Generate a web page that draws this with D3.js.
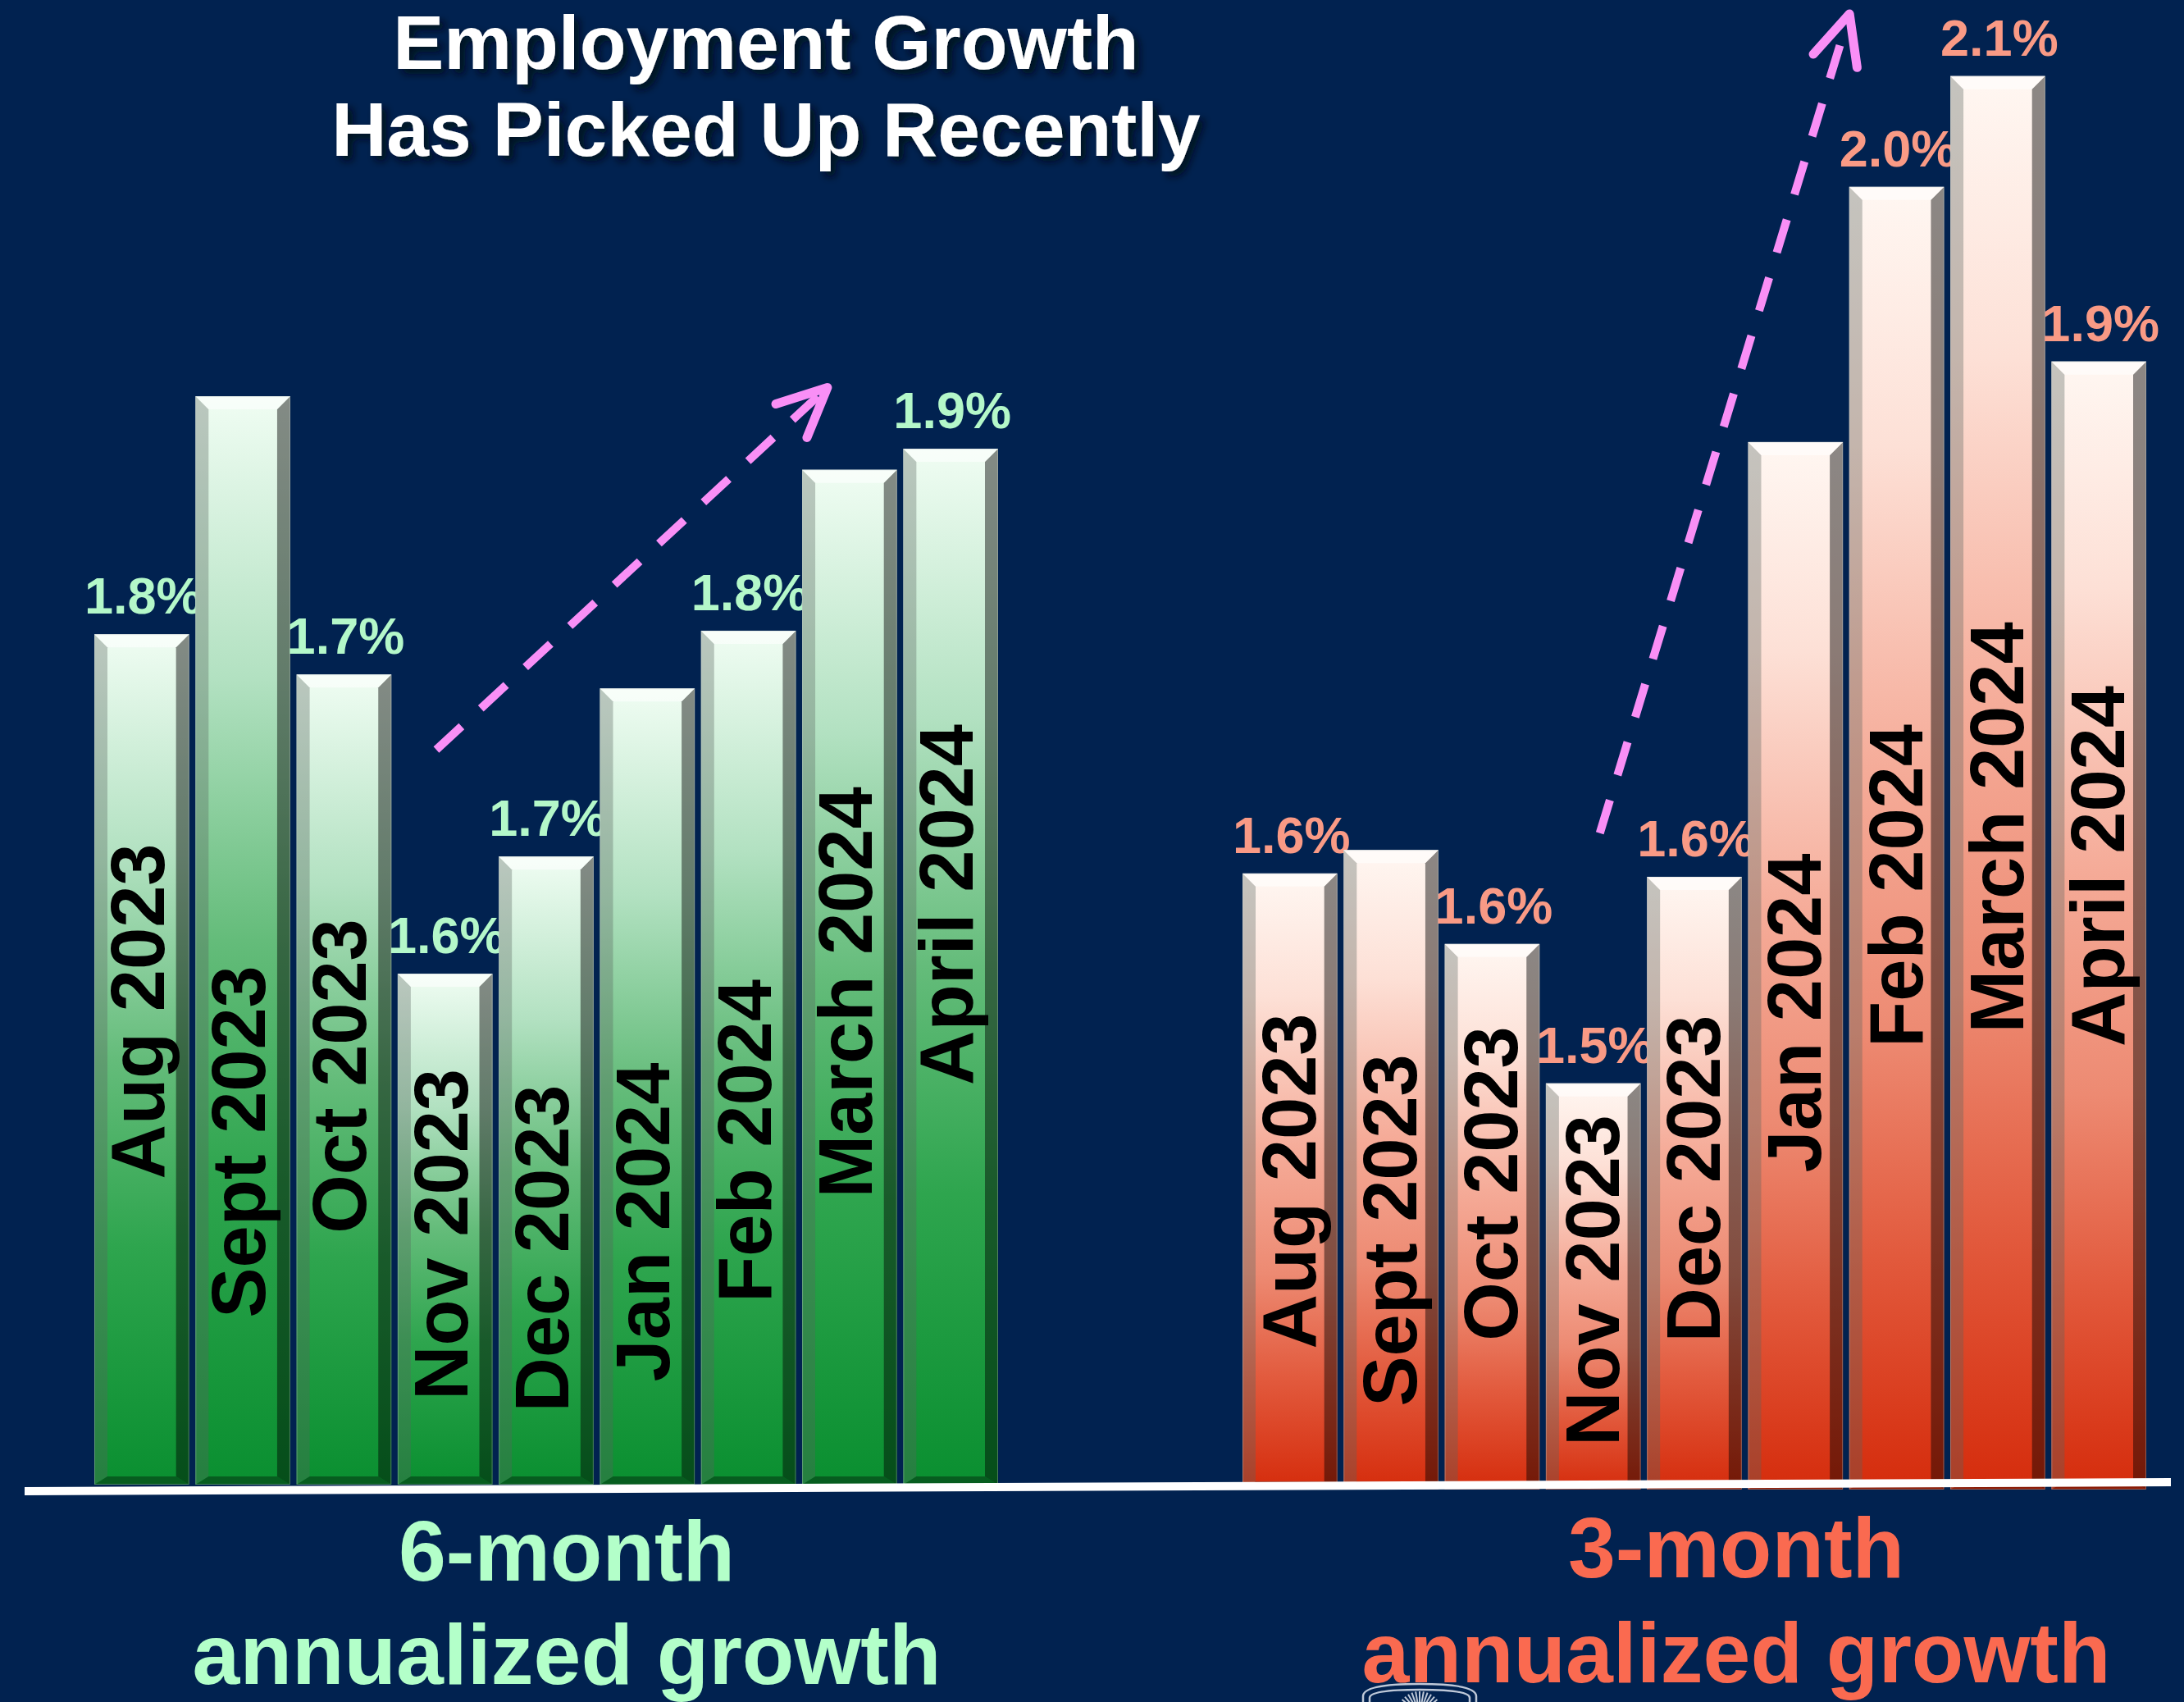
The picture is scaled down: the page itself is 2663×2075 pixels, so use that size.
<!DOCTYPE html>
<html><head><meta charset="utf-8">
<script src="https://cdn.jsdelivr.net/npm/d3@7"></script>
<style>html,body{margin:0;padding:0;background:#012250;overflow:hidden}svg{display:block}</style>
</head><body>
<svg id="chart" width="2663" height="2075"></svg>
<script>
// ---------- DATA ----------
const months = ["Aug 2023","Sept 2023","Oct 2023","Nov 2023","Dec 2023","Jan 2024","Feb 2024","March 2024","April 2024"];
const values6 = [1.794, 1.930, 1.771, 1.600, 1.667, 1.763, 1.796, 1.888, 1.900];
const labels6 = ["1.8%", null, "1.7%", "1.6%", "1.7%", null, "1.8%", null, "1.9%"];
const values3 = [1.625, 1.639, 1.583, 1.500, 1.623, 1.882, 2.034, 2.100, 1.930];
const labels3 = ["1.6%", null, "1.6%", "1.5%", "1.6%", null, "2.0%", "2.1%", "1.9%"];
const titleLines = ["Employment Growth", "Has Picked Up Recently"];
const caption6 = ["6-month", "annualized growth"];
const caption3 = ["3-month", "annualized growth"];
// trend arrows, anchored in data space: {i: band index, v: value}
const arrow6 = [{i: 3.382, v: 1.728}, {i: 7.25, v: 1.935}];
const arrow3 = [{i: 3.534, v: 1.649}, {i: 6.003, v: 2.137}];

// ---------- LAYOUT ----------
const FONT = "'Liberation Sans', Arial, Helvetica, sans-serif";
const panels = [
  {values: values6, labels: labels6, caption: caption6, arrow: arrow6,
   xr: [115, 1217], base: 1810, domain: [1.308, 2.10], top: 120.4,
   grad: "gGreen", valueColor: "#b4f8c9", captionColor: "#b3ffc9", capX: 691, capY: [1927, 2053],
   textOff: 27, labelMid: [1233, 1392, 1312, 1505, 1522, 1490, 1391, 1210, 1103]},
  {values: values3, labels: labels3, caption: caption3, arrow: arrow3,
   xr: [1515, 2617], base: 1816, domain: [1.258, 2.10], top: 92.7,
   grad: "gRed", valueColor: "#f99a85", captionColor: "#fa6a50", capX: 2117, capY: [1923, 2051],
   textOff: 31, labelMid: [1440, 1500, 1443, 1561, 1437, 1235, 1080, 1009, 1056]}
];

const svg = d3.select("#chart");
svg.append("rect").attr("width", 2663).attr("height", 2075).attr("fill", "#012250");

const defs = svg.append("defs");
function grad(id, stops) {
  const g = defs.append("linearGradient").attr("id", id).attr("x1", 0).attr("y1", 0).attr("x2", 0).attr("y2", 1);
  stops.forEach(([o, c]) => g.append("stop").attr("offset", o).attr("stop-color", c));
}
grad("gGreen", [[0, "#f0fdf3"], [0.26, "#b2e1c1"], [0.5, "#64bc7a"], [0.72, "#2ea54e"], [1, "#0a8f30"]]);
grad("gRed", [[0, "#fff7f2"], [0.2, "#fde0d6"], [0.45, "#f5ab98"], [0.65, "#ed8a72"], [0.82, "#e25a3d"], [1, "#d52c0c"]]);
const sh = defs.append("filter").attr("id", "shadow").attr("x", "-10%").attr("y", "-10%").attr("width", "130%").attr("height", "140%");
sh.append("feDropShadow").attr("dx", 6).attr("dy", 6).attr("stdDeviation", 5).attr("flood-color", "#000814").attr("flood-opacity", 0.9);

const B = 16, BB = 10;

panels.forEach(p => {
  const x = d3.scaleBand().domain(months).range(p.xr).paddingInner(0.062).paddingOuter(0);
  const y = d3.scaleLinear().domain(p.domain).range([p.base, p.top]);
  const w = x.bandwidth();
  const g = svg.append("g");

  const bars = g.selectAll("g.bar").data(months.map((m, i) => ({m, v: p.values[i], lab: p.labels[i], mid: p.labelMid[i]})))
    .enter().append("g").attr("class", "bar");

  bars.append("rect")
    .attr("x", d => x(d.m)).attr("y", d => y(d.v))
    .attr("width", w).attr("height", d => p.base - y(d.v))
    .attr("fill", `url(#${p.grad})`);

  const poly = pts => pts.map(q => q.join(",")).join(" ");
  bars.append("polygon").attr("fill", "rgba(90,100,95,0.35)")
    .attr("points", d => { const x0 = x(d.m), t = y(d.v), b = p.base;
      return poly([[x0, t], [x0 + B, t + B], [x0 + B, b - BB], [x0, b]]); });
  bars.append("polygon").attr("fill", "rgba(0,0,0,0.45)")
    .attr("points", d => { const x1 = x(d.m) + w, t = y(d.v), b = p.base;
      return poly([[x1, t], [x1 - B, t + B], [x1 - B, b - BB], [x1, b]]); });
  bars.append("polygon").attr("fill", "rgba(255,255,255,0.55)")
    .attr("points", d => { const x0 = x(d.m), x1 = x0 + w, t = y(d.v);
      return poly([[x0, t], [x1, t], [x1 - B, t + B], [x0 + B, t + B]]); });
  bars.append("polygon").attr("fill", "rgba(0,0,0,0.35)")
    .attr("points", d => { const x0 = x(d.m), x1 = x0 + w, b = p.base;
      return poly([[x0, b], [x1, b], [x1 - B, b - BB], [x0 + B, b - BB]]); });
  bars.append("rect")
    .attr("x", d => x(d.m) + 0.5).attr("y", d => y(d.v) + 0.5)
    .attr("width", w - 1).attr("height", d => p.base - y(d.v) - 1)
    .attr("fill", "none").attr("stroke", "rgba(200,210,205,0.35)").attr("stroke-width", 1);

  bars.append("text")
    .attr("transform", d => `translate(${x(d.m) + w / 2 + p.textOff},${d.mid}) rotate(-90)`)
    .attr("text-anchor", "middle")
    .attr("font-family", FONT).attr("font-weight", "bold").attr("font-size", 92)
    .attr("fill", "#000").text(d => d.m);

  bars.filter(d => d.lab).append("text")
    .attr("x", d => x(d.m) + w / 2 + 2).attr("y", d => y(d.v) - 25)
    .attr("text-anchor", "middle")
    .attr("font-family", FONT).attr("font-weight", "bold").attr("font-size", 63)
    .attr("fill", p.valueColor).text(d => d.lab);

  p.caption.forEach((c, k) => {
    svg.append("text").attr("x", p.capX).attr("y", p.capY[k]).attr("text-anchor", "middle")
      .attr("font-family", FONT).attr("font-weight", "bold").attr("font-size", 104)
      .attr("fill", p.captionColor).text(c);
  });

  const px = a => p.xr[0] + a.i * x.step();
  const [a0, a1] = p.arrow;
  const X0 = px(a0), Y0 = y(a0.v), X1 = px(a1), Y1 = y(a1.v);
  svg.append("line").attr("x1", X0).attr("y1", Y0).attr("x2", X1).attr("y2", Y1)
    .attr("stroke", "#f98ff6").attr("stroke-width", 10).attr("stroke-dasharray", "42,32");
  const ang = Math.atan2(Y0 - Y1, X0 - X1), L = 66, spread = 25 * Math.PI / 180;
  const head = d3.path();
  head.moveTo(X1 + L * Math.cos(ang + spread), Y1 + L * Math.sin(ang + spread));
  head.lineTo(X1, Y1);
  head.lineTo(X1 + L * Math.cos(ang - spread), Y1 + L * Math.sin(ang - spread));
  svg.append("path").attr("d", head.toString()).attr("fill", "none")
    .attr("stroke", "#f98ff6").attr("stroke-width", 11).attr("stroke-linecap", "round").attr("stroke-linejoin", "round");
});

// baseline (white)
svg.append("line").attr("x1", 30).attr("y1", 1818).attr("x2", 2647).attr("y2", 1807)
  .attr("stroke", "#ffffff").attr("stroke-width", 10);

// small seal at bottom (partly hidden)
const seal = svg.append("g").attr("fill", "none").attr("stroke", "#dfe6f0").attr("stroke-width", 2.5).attr("opacity", 0.85);
seal.append("path").attr("d", "M1662,2080 L1662,2068 Q1662,2053 1731,2053 Q1800,2053 1800,2068 L1800,2080");
seal.append("path").attr("d", "M1670,2080 L1670,2070 Q1670,2060 1731,2060 Q1792,2060 1792,2070 L1792,2080");
d3.range(-60, 61, 10).forEach(a => {
  const r = a * Math.PI / 180;
  seal.append("line").attr("x1", 1731 + 12 * Math.sin(r)).attr("y1", 2090 - 12 * Math.cos(r))
    .attr("x2", 1731 + 28 * Math.sin(r)).attr("y2", 2090 - 28 * Math.cos(r)).attr("stroke-width", 2);
});

// title
titleLines.forEach((t, k) => {
  svg.append("text").attr("x", 934).attr("y", [84, 190][k]).attr("text-anchor", "middle")
    .attr("font-family", FONT).attr("font-weight", "bold").attr("font-size", 93)
    .attr("fill", "#ffffff").attr("filter", "url(#shadow)").text(t);
});
</script>
</body></html>
